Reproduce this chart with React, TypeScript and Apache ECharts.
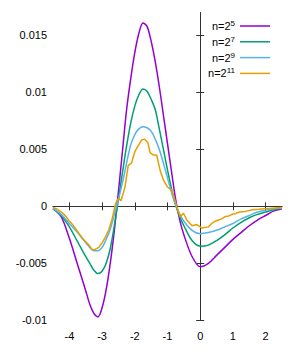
import React, { useEffect, useRef } from "react";
import * as echarts from "echarts";

const xGrid = [-4.5, -4.25, -4.0, -3.75, -3.5, -3.375, -3.25, -3.125, -3.0, -2.875, -2.75, -2.625, -2.5, -2.375, -2.25, -2.125, -2.0, -1.875, -1.75, -1.625, -1.5, -1.375, -1.25, -1.125, -1.0, -0.875, -0.75, -0.625, -0.5, -0.25, 0, 0.25, 0.5, 0.75, 1.0, 1.25, 1.5, 1.75, 2.0, 2.25, 2.5];

const n5 = [-0.0002, -0.0009, -0.0028, -0.0051, -0.0074, -0.0086, -0.0094, -0.0097, -0.0089, -0.0073, -0.005, -0.0021, 0.0013, 0.0049, 0.0085, 0.0112, 0.0135, 0.0152, 0.0161, 0.0158, 0.0145, 0.0127, 0.0105, 0.008, 0.0055, 0.003, 0.0006, -0.0012, -0.0025, -0.0044, -0.0053, -0.005, -0.0043, -0.0036, -0.0029, -0.0023, -0.0017, -0.0012, -0.0008, -0.0004, -0.0002];
const n7 = [-0.0002, -0.0008, -0.0018, -0.0031, -0.0044, -0.005, -0.0056, -0.0059, -0.0057, -0.005, -0.0037, -0.0017, 0.0006, 0.003, 0.0053, 0.0073, 0.0088, 0.0098, 0.0103, 0.0101, 0.0094, 0.0085, 0.0068, 0.005, 0.0032, 0.0015, 0.0001, -0.0009, -0.0017, -0.003, -0.0035, -0.0034, -0.003, -0.0025, -0.0019, -0.0014, -0.001, -0.0007, -0.0005, -0.0003, -0.00015];
const n9 = [-0.0002, -0.0007, -0.0015, -0.0023, -0.0032, -0.0036, -0.0039, -0.0039, -0.0036, -0.0029, -0.002, -0.0007, 0.0006, 0.0021, 0.0038, 0.0054, 0.0063, 0.0068, 0.007, 0.0069, 0.0066, 0.0059, 0.005, 0.0038, 0.0025, 0.0012, 0.0001, -0.0007, -0.0013, -0.0021, -0.0024, -0.0023, -0.0021, -0.0018, -0.0015, -0.0011, -0.0008, -0.0005, -0.00035, -0.0002, -0.00015];

const xN11 = [-4.5, -4.4, -4.3, -4.2, -4.1, -4.0, -3.9, -3.8, -3.7, -3.6, -3.5, -3.4, -3.3, -3.22, -3.1, -3.0, -2.9, -2.8, -2.7, -2.6, -2.55, -2.5, -2.42, -2.3, -2.2, -2.1, -2.0, -1.9, -1.8, -1.7, -1.6, -1.53, -1.43, -1.33, -1.22, -1.12, -1.0, -0.87, -0.78, -0.71, -0.61, -0.51, -0.41, -0.25, -0.1, 0.05, 0.25, 0.35, 0.46, 0.56, 0.66, 0.76, 0.87, 0.97, 1.07, 1.2, 1.38, 1.6, 1.79, 2.1, 2.5];
const n11 = [-0.0001, -0.0002, -0.0004, -0.0006, -0.0009, -0.0013, -0.0016, -0.002, -0.0024, -0.0028, -0.0031, -0.0034, -0.0038, -0.0038, -0.0036, -0.0032, -0.0027, -0.0021, -0.0012, 0.0001, 0.0005, 0.0007, 0.0005, 0.0017, 0.0036, 0.0038, 0.0048, 0.0053, 0.0058, 0.0059, 0.0056, 0.0047, 0.0045, 0.0045, 0.0031, 0.0023, 0.0017, 0.0014, 0.0006, -0.0001, -0.0009, -0.0006, -0.0012, -0.0017, -0.0016, -0.0019, -0.0018, -0.0015, -0.0013, -0.0012, -0.0011, -0.0009, -0.00085, -0.0007, -0.00064, -0.0005, -0.00044, -0.0003, -0.00026, -0.00018, -0.0001];

const seriesNames = ["n=2^5", "n=2^7", "n=2^9", "n=2^11"];
const seriesColors = ["#9400d3", "#009e73", "#56b4e9", "#e69f00"];
const xTicks = [-4, -3, -2, -1, 0, 1, 2];
const yTicks = [-0.01, -0.005, 0, 0.005, 0.01, 0.015];

const FONT = "Liberation Sans";

export default function App() {
  const ref = useRef<HTMLDivElement>(null);
  useEffect(() => {
    if (!ref.current) return;
    const chart = echarts.init(ref.current, undefined, { renderer: "svg" });
    const pairs = (xs: number[], ys: number[]) => xs.map((x, i) => [x, ys[i]]);
    const datasets = [pairs(xGrid, n5), pairs(xGrid, n7), pairs(xGrid, n9), pairs(xN11, n11)];
    const axisLine = { show: true, lineStyle: { color: "#333", width: 1 } };
    const tick = { show: true, inside: true, length: 4, lineStyle: { color: "#333", width: 1 } };
    chart.setOption({
      animation: false,
      backgroundColor: "#fff",
      grid: { left: 53, right: 18, top: 12.7, bottom: 31.7 },
      legend: {
        orient: "vertical",
        right: 30,
        top: 19.5,
        padding: 0,
        align: "right",
        icon: "rect",
        itemWidth: 30,
        itemHeight: 1.5,
        itemGap: 3.8,
        data: seriesNames,
        formatter: (name: string) => `{b|n=2}{s|${name.split("^")[1]}}`,
        textStyle: {
          rich: {
            b: { fontSize: 11, fontFamily: FONT, color: "#000", lineHeight: 13 },
            s: { fontSize: 8, fontFamily: FONT, color: "#000", verticalAlign: "top", lineHeight: 13 },
          },
        },
      },
      xAxis: [
        {
          type: "value", min: -4.5, max: 2.5, position: "bottom",
          axisLine, axisTick: { ...tick, customValues: xTicks },
          splitLine: { show: false },
          axisLabel: { customValues: xTicks, fontSize: 11, fontFamily: FONT, color: "#000", margin: 10, formatter: (v: number) => String(v) },
        },
        {
          type: "value", min: -4.5, max: 2.5, position: "top",
          axisLine, axisTick: { ...tick, customValues: xTicks },
          splitLine: { show: false }, axisLabel: { show: false },
        },
      ],
      yAxis: [
        {
          type: "value", min: -0.01, max: 0.017, position: "left",
          axisLine, axisTick: { ...tick, customValues: yTicks },
          splitLine: { show: false },
          axisLabel: { customValues: yTicks, fontSize: 11, fontFamily: FONT, color: "#000", margin: 6, formatter: (v: number) => String(parseFloat(v.toFixed(4))) },
        },
        {
          type: "value", min: -0.01, max: 0.017, position: "right",
          axisLine, axisTick: { ...tick, customValues: yTicks },
          splitLine: { show: false }, axisLabel: { show: false },
        },
      ],
      series: seriesNames.map((name, i) => ({
        name,
        type: "line",
        xAxisIndex: 0,
        yAxisIndex: 0,
        data: datasets[i],
        smooth: i < 3 ? 0.3 : false,
        showSymbol: false,
        symbol: "none",
        color: seriesColors[i],
        lineStyle: { width: 1.5, color: seriesColors[i] },
      })),
    });
    return () => chart.dispose();
  }, []);
  return <div ref={ref} style={{ position: "fixed", left: 0, top: 0, width: 300, height: 352 }} />;
}
